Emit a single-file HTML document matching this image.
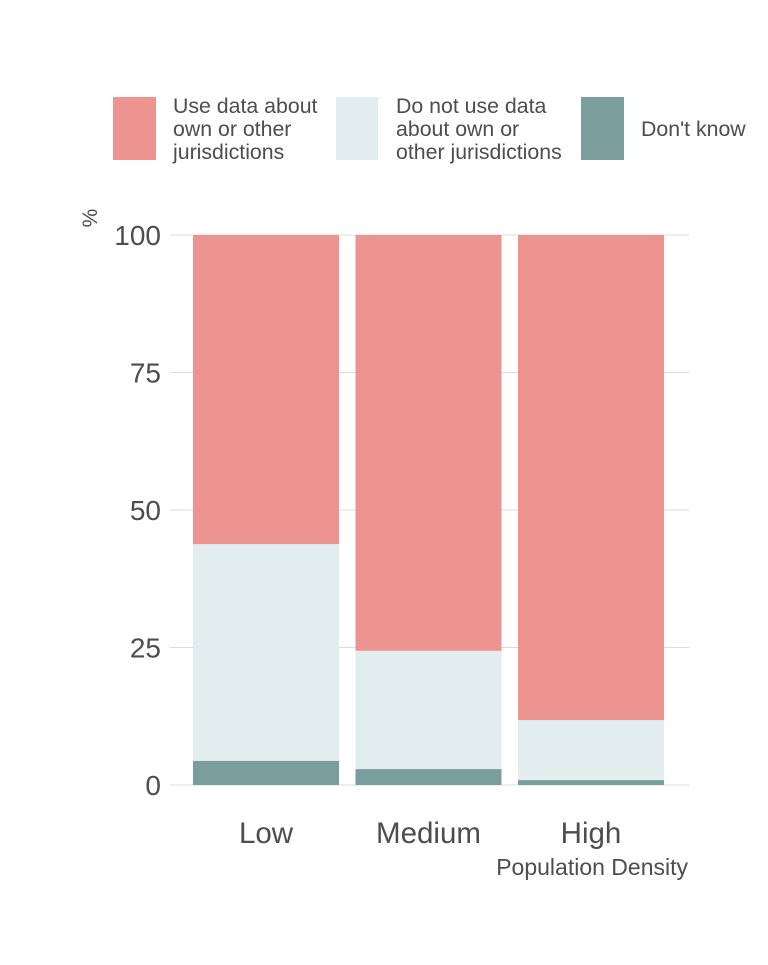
<!DOCTYPE html>
<html><head><meta charset="utf-8"><style>
body{margin:0;background:#fff}
svg text{font-family:"Liberation Sans",sans-serif;fill:#4d4d4d}
</style></head><body>
<svg width="768" height="960">
<g>
<rect x="113" y="97" width="43" height="63" fill="#EE9490"/>
<text x="173" y="113" font-size="21.3"><tspan x="173">Use data about</tspan><tspan x="173" dy="23">own or other</tspan><tspan x="173" dy="23">jurisdictions</tspan></text>
<rect x="336" y="97" width="42" height="63" fill="#E2EEEE"/>
<text x="396" y="113" font-size="21.3"><tspan x="396">Do not use data</tspan><tspan x="396" dy="23">about own or</tspan><tspan x="396" dy="23">other jurisdictions</tspan></text>
<rect x="581" y="97" width="43" height="63" fill="#7A9E9E"/>
<text x="641" y="136" font-size="21.3">Don't know</text>
</g>
<text transform="translate(97,218) rotate(-90)" font-size="21" text-anchor="middle">%</text>
<g id="grid"></g><g id="bars"></g><g id="labels"></g>
<text x="688" y="875" font-size="23" text-anchor="end">Population Density</text>
</svg>
<script>
const categories=["Low","Medium","High"];
const dontKnow=[4.4,2.9,0.9];
const notUse=[39.4,21.5,10.9];
const useData=[56.2,75.6,88.2];
const yTicks=[0,25,50,75,100];
const ns="http://www.w3.org/2000/svg";
const y=v=>785-v*5.5;
const xc=i=>266+i*162.5;
const bw=146;
function mk(t,a,p){const e=document.createElementNS(ns,t);for(const k in a)e.setAttribute(k,a[k]);document.getElementById(p).appendChild(e);return e;}
yTicks.forEach(t=>{
 const l=mk("line",{x1:170,x2:689,y1:y(t),y2:y(t),stroke:"#dcdcdc","stroke-width":1},"grid");
 
 
 const tx=mk("text",{x:161,y:y(t)+10,"font-size":28,"text-anchor":"end"},"labels");
 tx.textContent=t;
 
 
});
const series=[[dontKnow,"#7A9E9E","dont-know"],[notUse,"#E2EEEE","not-use"],[useData,"#EE9490","use"]];
categories.forEach((c,i)=>{
 let base=0;
 series.forEach(([arr,col,nm])=>{
  const v=arr[i];
  const r=mk("rect",{x:xc(i)-bw/2,y:y(base+v),width:bw,height:v*5.5,fill:col},"bars");
  
  
  base+=v;
 });
 const tx=mk("text",{x:xc(i),y:843,"font-size":29.5,"text-anchor":"middle"},"labels");
 tx.textContent=c;
 
 
});
</script>
</body></html>
